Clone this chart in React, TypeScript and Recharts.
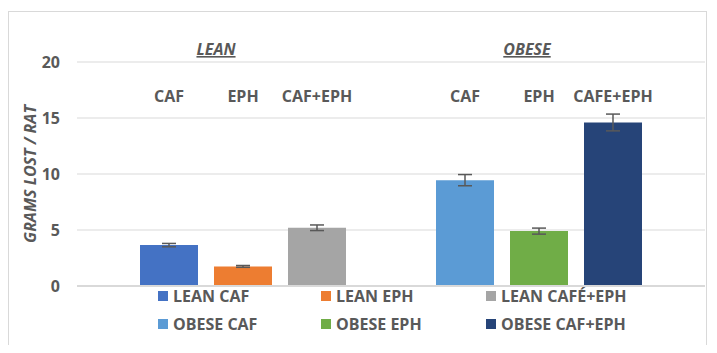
import { Bar, BarChart, CartesianGrid, Cell, ErrorBar, Legend, XAxis, YAxis } from "recharts";

const groups = ["LEAN", "OBESE"];
const leanTreatments = ["CAF", "EPH", "CAF+EPH"];
const obeseTreatments = ["CAF", "EPH", "CAFE+EPH"];
const leanMeans = [3.65, 1.75, 5.2];
const leanErrors = [0.15, 0.08, 0.25];
const obeseMeans = [9.45, 4.9, 14.6];
const obeseErrors = [0.5, 0.27, 0.75];
const legendNames = [
  "LEAN CAF",
  "LEAN EPH",
  "LEAN CAFÉ+EPH",
  "OBESE CAF",
  "OBESE EPH",
  "OBESE CAF+EPH",
];
const colors = ["#4472C4", "#ED7D31", "#A5A5A5", "#5B9BD5", "#70AD47", "#264478"];
const yTicks = [0, 5, 10, 15, 20];

type Row = {
  key: string;
  label: string;
  group?: string;
  value: number | null;
  err: number | null;
  color: string;
};

const rows: Row[] = [
  ...leanTreatments.map((t, i) => ({
    key: "lean-" + i,
    label: t,
    group: i === 1 ? groups[0] : undefined,
    value: leanMeans[i],
    err: leanErrors[i],
    color: colors[i],
  })),
  { key: "gap", label: "", value: null, err: null, color: "transparent" },
  ...obeseTreatments.map((t, i) => ({
    key: "obese-" + i,
    label: t,
    group: i === 1 ? groups[1] : undefined,
    value: obeseMeans[i],
    err: obeseErrors[i],
    color: colors[i + 3],
  })),
];

const TEXT = "#595959";
const groupShift: Record<string, number> = { LEAN: -27, OBESE: -12 };

function TopTick(props: any) {
  const { x, payload } = props;
  const row = rows.find((r) => r.key === payload.value);
  if (!row) return null;
  return (
    <g>
      {row.group && (
        <text
          x={x + groupShift[row.group]}
          y={43}
          textAnchor="middle"
          fill={TEXT}
          fontSize={16}
          fontWeight="bold"
          fontStyle="italic"
          textDecoration="underline"
        >
          {row.group}
        </text>
      )}
      <text x={x} y={90} textAnchor="middle" fill={TEXT} fontSize={16} fontWeight="bold">
        {row.label}
      </text>
    </g>
  );
}

function LegendBox() {
  return (
    <div style={{ height: 60, position: "relative" }}>
      <div
        style={{
          position: "absolute",
          top: -5,
          left: 0,
          display: "grid",
          gridTemplateColumns: "163px 165px auto",
          gridAutoRows: "28px",
          paddingLeft: 149,
        }}
      >
        {legendNames.map((name, i) => (
          <div key={name} style={{ display: "flex", alignItems: "center", gap: 5 }}>
            <span style={{ width: 10, height: 10, background: colors[i], display: "inline-block" }} />
            <span style={{ color: TEXT, fontSize: 16, fontWeight: "bold", whiteSpace: "nowrap" }}>
              {name}
            </span>
          </div>
        ))}
      </div>
    </div>
  );
}

export default function App() {
  return (
    <div
      style={{
        position: "relative",
        top: 3,
        width: 697,
        height: 335,
        border: "1px solid #d9d9d9",
        fontFamily: "'Open Sans', sans-serif",
        background: "#fff",
      }}
    >
      <BarChart width={697} height={335} data={rows} margin={{ top: 0, right: 1, left: 0, bottom: 0 }}>
        <CartesianGrid horizontal vertical={false} stroke="#d9d9d9" />
        <XAxis
          dataKey="key"
          padding={{ left: 55, right: 55 }}
          height={1}
          tick={false}
          tickLine={false}
          axisLine={{ stroke: "#d9d9d9", strokeWidth: 2 }}
        />
        <XAxis
          xAxisId="top"
          orientation="top"
          dataKey="key"
          padding={{ left: 55, right: 55 }}
          height={50}
          axisLine={false}
          tickLine={false}
          interval={0}
          tick={<TopTick />}
        />
        <YAxis
          width={68}
          domain={[0, 20]}
          ticks={yTicks}
          axisLine={false}
          tickLine={false}
          tickMargin={11}
          tick={{ fill: TEXT, fontSize: 16, fontWeight: "bold" }}
          label={{
            value: "GRAMS LOST / RAT",
            angle: -90,
            position: "center",
            dx: -13,
            fill: TEXT,
            fontSize: 16,
            fontWeight: "bold",
            fontStyle: "italic",
          }}
        />
        <Legend verticalAlign="bottom" content={<LegendBox />} />
        <Bar dataKey="value" barSize={58} isAnimationActive={false}>
          {rows.map((r) => (
            <Cell key={r.key} fill={r.color} />
          ))}
          <ErrorBar dataKey="err" width={7} stroke="#595959" strokeWidth={1.5} />
        </Bar>
      </BarChart>
    </div>
  );
}
